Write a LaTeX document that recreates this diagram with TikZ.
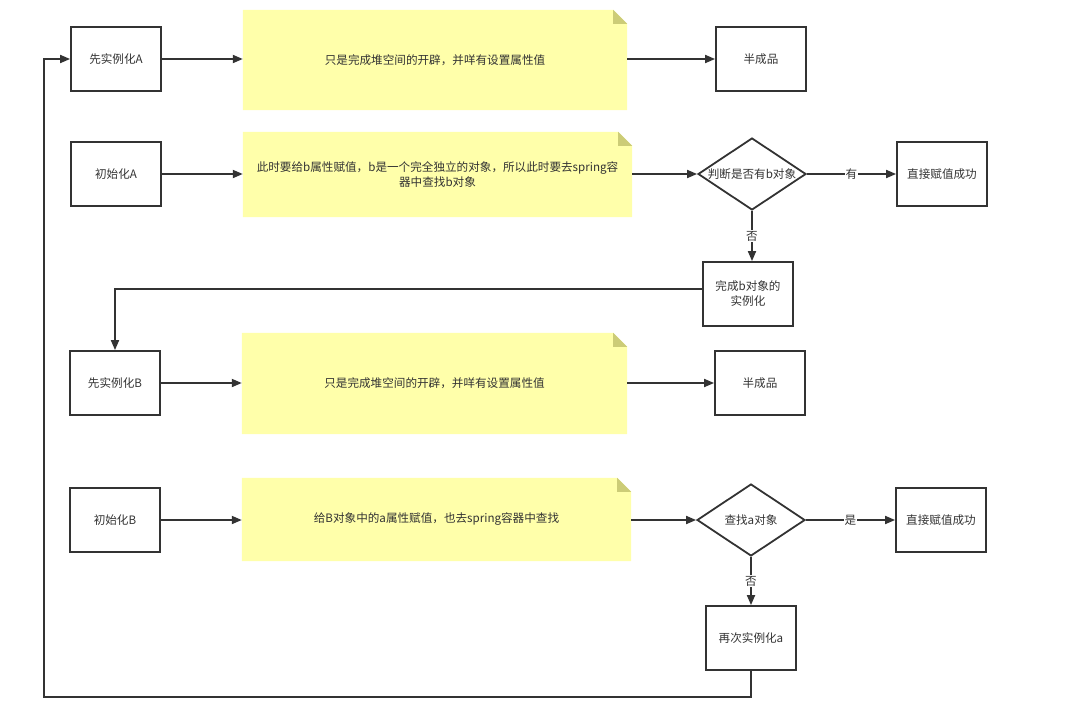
\documentclass[tikz,border=0pt]{standalone}
\usepackage{fontspec}
\setmainfont{Noto Sans CJK SC}
\usetikzlibrary{arrows.meta,shapes.geometric,backgrounds}
\definecolor{ln}{HTML}{333333}
\definecolor{txt}{HTML}{333333}
\definecolor{notefill}{HTML}{FFFFAA}
\definecolor{notefold}{HTML}{CCCC77}
\newcommand\fsz{\fontsize{11.6}{15}\selectfont}
\newcommand\notebg[1]{%
  \fill[notefill] (#1.north west) -- ([xshift=-14pt]#1.north east) -- ([yshift=-14pt]#1.north east) -- (#1.south east) -- (#1.south west) -- cycle;
  \fill[notefold] ([xshift=-14pt]#1.north east) -- ([xshift=-14pt,yshift=-14pt]#1.north east) -- ([yshift=-14pt]#1.north east) -- cycle;}
\begin{document}
\begin{tikzpicture}[x=1pt,y=-1pt,
  box/.style={draw=ln, line width=1.8pt, minimum width=90pt, minimum height=64pt, inner sep=0pt, text=txt, font=\fsz, align=center},
  note/.style={inner sep=0pt, text=txt, font=\fsz, align=center},
  dec/.style={diamond, draw=ln, line width=1.8pt, minimum width=108pt, minimum height=72pt, inner sep=0pt, text=txt, font=\fsz},
  arr/.style={draw=ln, line width=1.8pt, -{Triangle[length=10pt,width=8pt]}},
  lab/.style={fill=white, inner sep=1pt, text=txt, font=\fsz}]
\useasboundingbox (0,0) rectangle (1079,712);
% row 1
\node[box] (a1) at (116,59) {先实例化A};
\node[note, minimum width=384pt, minimum height=100pt] (n1) at (435,60) {只是完成堆空间的开辟，并咩有设置属性值};
\node[box] (h1) at (761,59) {半成品};
% row 2
\node[box] (i1) at (116,174) {初始化A};
\node[note, minimum width=389pt, minimum height=85pt] (n2) at (437.5,174.5) {此时要给b属性赋值，b是一个完全独立的对象，所以此时要去spring容\\器中查找b对象};
\node[dec] (d1) at (752,174) {\makebox[0pt]{判断是否有b对象}};
\node[box] (s1) at (942,174) {直接赋值成功};
\node[box] (bd) at (748,294) {完成b对象的\\实例化};
% row 3
\node[box] (b1) at (115,383) {先实例化B};
\node[note, minimum width=385pt, minimum height=101pt] (n3) at (434.5,383.5) {只是完成堆空间的开辟，并咩有设置属性值};
\node[box] (h2) at (760,383) {半成品};
% row 4
\node[box] (i2) at (115,520) {初始化B};
\node[note, minimum width=389pt, minimum height=83pt] (n4) at (436.5,519.5) {给B对象中的a属性赋值，也去spring容器中查找};
\node[dec] (d2) at (751,520) {\makebox[0pt]{查找a对象}};
\node[box] (s2) at (941,520) {直接赋值成功};
\node[box] (ag) at (751,638) {再次实例化a};
\coordinate (c1) at (44,697);
\begin{pgfonlayer}{background}
\notebg{n1}\notebg{n2}\notebg{n3}\notebg{n4}
\end{pgfonlayer}
% connectors
\draw[arr] (a1.east) -- (a1.east -| n1.west);
\draw[arr] (a1.east -| n1.east) -- (a1.east -| h1.west);
\draw[arr] (i1.east) -- (i1.east -| n2.west);
\draw[arr] (d1.west -| n2.east) -- (d1.west);
\draw[arr] (d1.east) -- node[lab] {有} (d1.east -| s1.west);
\draw[arr] (d1.south) -- node[lab] {否} (d1.south |- bd.north);
\draw[arr] ([yshift=5pt]bd.west) -| (b1.north);
\draw[arr] (b1.east) -- (b1.east -| n3.west);
\draw[arr] (b1.east -| n3.east) -- (b1.east -| h2.west);
\draw[arr] (i2.east) -- (i2.east -| n4.west);
\draw[arr] (d2.west -| n4.east) -- (d2.west);
\draw[arr] (d2.east) -- node[lab] {是} (d2.east -| s2.west);
\draw[arr] (d2.south) -- node[lab] {否} (ag.north);
\draw[arr] (ag.south) |- (c1) |- (a1.west);
\end{tikzpicture}
\end{document}
